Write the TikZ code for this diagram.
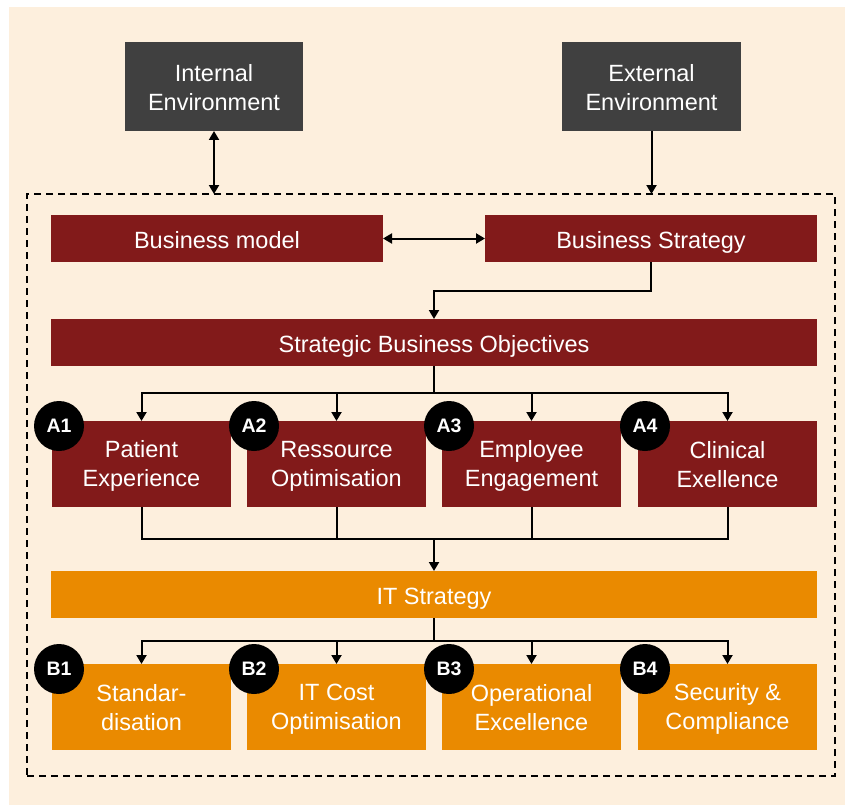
\documentclass[tikz,border=0pt]{standalone}
\usepackage{fontspec}
\setmainfont{Liberation Sans}
\usetikzlibrary{arrows.meta}
\definecolor{dred}{RGB}{130,26,26}
\definecolor{orng}{RGB}{234,138,0}
\definecolor{dgray}{RGB}{64,64,64}
\definecolor{beige}{RGB}{253,239,221}
\newcommand\sA{\rule[-4pt]{0pt}{28pt}}
\newcommand\sB{\rule[-4pt]{0pt}{25pt}}
\begin{document}
\begin{tikzpicture}[x=1pt,y=-1pt,
  every node/.style={inner sep=0pt,outer sep=0pt},
  box/.style={text=white,align=center,font=\fontsize{23.5}{29}\selectfont},
  envbox/.style={box,fill=dgray,minimum width=178pt,minimum height=89pt},
  redbar/.style={box,fill=dred,minimum height=47pt},
  orbar/.style={box,fill=orng,minimum height=47pt},
  redcell/.style={box,fill=dred,minimum width=179pt,minimum height=86pt},
  orcell/.style={box,fill=orng,minimum width=179pt,minimum height=86pt},
  badge/.style={circle,fill=black,text=white,minimum size=50pt,font=\bfseries\fontsize{19.5}{21}\selectfont},
  conn/.style={line width=2pt,draw=black},
  arr/.style={conn,-{Triangle[length=9pt,width=10pt]}},
  arrr/.style={conn,{Triangle[length=9pt,width=10pt]}-{Triangle[length=9pt,width=10pt]}},
  frame/.style={draw=black,line width=1.8pt,dash pattern=on 7pt off 5pt,minimum width=808pt,minimum height=582pt}
]
\useasboundingbox (0,0) rectangle (845,805);
\fill[beige] (9,7) rectangle (845,805);

\node[frame] (frame) at (431,485) {};

\node[envbox] (intenv) at (214,86.5) {Internal\sA\\Environment\sA};
\node[envbox,minimum width=179pt] (extenv) at (651.5,86.5) {External\sA\\Environment\sA};

\node[redbar,minimum width=332pt] (bm) at (217,238.5) {Business model\sA};
\node[redbar,minimum width=332pt] (bs) at (651,238.5) {Business Strategy\sA};
\node[redbar,minimum width=766pt] (sbo) at (434,342.5) {Strategic Business Objectives\sA};

\node[redcell] (A1) at (141.5,464) {Patient\sB\\Experience\sB};
\node[redcell] (A2) at (336.5,464) {Ressource\sB\\Optimisation\sB};
\node[redcell] (A3) at (531.5,464) {Employee\sB\\Engagement\sB};
\node[redcell] (A4) at (727.5,464) {Clinical\sB\\Exellence\sB};

\node[orbar,minimum width=766pt] (it) at (434,594.5) {IT Strategy\sA};

\node[orcell] (B1) at (141.5,707) {Standar-\sB\\disation\sB};
\node[orcell] (B2) at (336.5,707) {IT Cost\sB\\Optimisation\sB};
\node[orcell] (B3) at (531.5,707) {Operational\sB\\Excellence\sB};
\node[orcell] (B4) at (727.5,707) {Security \&\sB\\Compliance\sB};

\foreach \n in {1,2,3,4}{
  \node[badge] (a\n) at ([shift={(7pt,-5pt)}]A\n.north west) {A\n};
  \node[badge] (b\n) at ([shift={(7pt,-5pt)}]B\n.north west) {B\n};
}

% environment arrows
\draw[arrr] (intenv.south) -- (intenv.south |- frame.north);
\draw[arr] (extenv.south) -- (extenv.south |- frame.north);

% business model <-> strategy
\draw[arrr] (bm.east) -- (bs.west);

% strategy -> SBO
\coordinate (j0) at (434,291);
\draw[arr] (bs.south) |- (j0) -- (sbo.north);

% SBO -> A boxes
\coordinate (j1) at (434,393);
\draw[conn] (sbo.south) -- (j1);
\foreach \n in {1,2,3,4}{ \draw[arr] (j1) -| (A\n.north); }

% A boxes -> IT strategy
\coordinate (j2) at (434,539);
\foreach \n in {1,2,3,4}{ \draw[conn] (A\n.south) |- (j2); }
\draw[arr] (j2) -- (it.north);

% IT strategy -> B boxes
\coordinate (j3) at (434,641);
\draw[conn] (it.south) -- (j3);
\foreach \n in {1,2,3,4}{ \draw[arr] (j3) -| (B\n.north); }
\end{tikzpicture}
\end{document}
